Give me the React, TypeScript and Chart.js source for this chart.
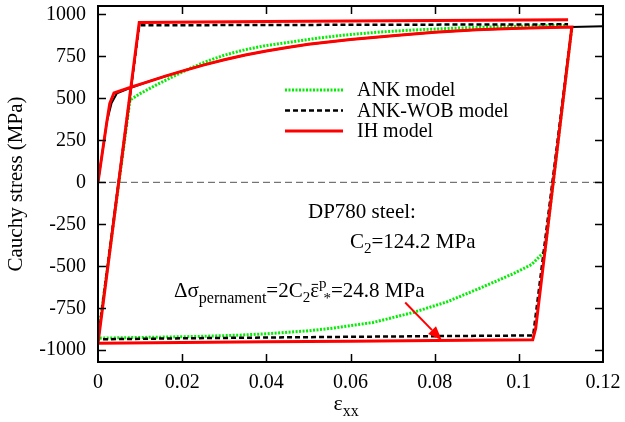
import React, { useEffect, useRef } from 'react';
import { Chart, registerables } from 'chart.js';

Chart.register(...registerables);

const FONT = '"Liberation Serif", "Times New Roman", serif';

const xTicks = [0, 0.02, 0.04, 0.06, 0.08, 0.1, 0.12];
const yTicks = [-1000, -750, -500, -250, 0, 250, 500, 750, 1000];

// IH model (red, solid)
const ihX = [0, 0.0021, 0.0028, 0.0038, 0.008, 0.012, 0.016, 0.02, 0.025, 0.03, 0.035, 0.04, 0.045, 0.05, 0.06, 0.07, 0.08, 0.09, 0.1, 0.1126, 0.104, 0.1033, 0.08, 0.06, 0.04, 0.02, 0, 0.0098, 0.04, 0.08, 0.1117];
const ihY = [0, 360, 470, 532, 568, 600, 632, 662, 698, 730, 758, 782, 803, 822, 850, 873, 893, 908, 918, 925, -870, -938, -942, -946, -950, -954, -958, 952, 957, 963, 968];

// monotonic loading curve (black, solid)
const monoX = [0, 0.0021, 0.0032, 0.0045, 0.008, 0.012, 0.016, 0.02, 0.025, 0.03, 0.035, 0.04, 0.045, 0.05, 0.06, 0.07, 0.08, 0.09, 0.1, 0.11, 0.12];
const monoY = [0, 360, 470, 530, 565, 600, 632, 662, 698, 730, 758, 782, 803, 822, 850, 873, 893, 908, 918, 924, 930];

// ANK-WOB model (black, dashed)
const wobX = [0.1126, 0.1034, 0.08, 0.05, 0.02, 0, 0.0098, 0.04, 0.08, 0.1117];
const wobY = [925, -912, -916, -922, -929, -935, 935, 937, 939, 941];

// ANK model (green, dotted)
const ankX = [0.1126, 0.1062, 0.103, 0.0986, 0.0908, 0.0829, 0.0749, 0.0653, 0.056, 0.0497, 0.04, 0.0337, 0.025, 0.015, 0, 0.0076, 0.01, 0.014, 0.018, 0.022, 0.026, 0.03, 0.035, 0.04, 0.046, 0.052, 0.059, 0.067, 0.075, 0.085, 0.095, 0.1117];
const ankY = [925, -410, -490, -545, -630, -712, -775, -835, -868, -885, -902, -910, -917, -922, -928, 490, 528, 582, 632, 680, 722, 757, 790, 815, 836, 858, 878, 895, 907, 918, 926, 935];

// zero reference line
const zeroX = [0, 0.12];
const zeroY = [0, 0];

// annotation arrow (start -> tip)
const arrowX = [0.073, 0.0817];
const arrowY = [-716, -940];

const pts = (xs: number[], ys: number[]) => xs.map((x, i) => ({ x, y: ys[i] }));

type Part = { t: string; s: number; dy?: number; dx?: number; bar?: boolean };

function drawRich(ctx: CanvasRenderingContext2D, x: number, y: number, parts: Part[]) {
  let cx = x;
  ctx.textAlign = 'left';
  ctx.textBaseline = 'alphabetic';
  for (const p of parts) {
    cx += p.dx || 0;
    ctx.font = `${p.s}px ${FONT}`;
    ctx.fillText(p.t, cx, y + (p.dy || 0));
    const w = ctx.measureText(p.t).width;
    if (p.bar) {
      ctx.save();
      ctx.lineWidth = 1;
      ctx.strokeStyle = '#000';
      ctx.beginPath();
      ctx.moveTo(cx + 1.5, y + (p.dy || 0) - p.s * 0.6);
      ctx.lineTo(cx + w - 1, y + (p.dy || 0) - p.s * 0.6);
      ctx.stroke();
      ctx.restore();
    }
    cx += w;
  }
}

const decorPlugin = {
  id: 'decor',
  afterDatasetsDraw(chart: any) {
    const { ctx, chartArea: a, scales } = chart;
    const xs = scales.x;
    const ys = scales.y;
    ctx.save();
    // frame
    ctx.strokeStyle = '#000';
    ctx.lineWidth = 2;
    ctx.strokeRect(a.left, a.top, a.right - a.left, a.bottom - a.top);
    // inward ticks on all sides
    ctx.lineWidth = 1.5;
    const tl = 8;
    ctx.beginPath();
    for (const v of xTicks) {
      const px = Math.round(xs.getPixelForValue(v)) + 0.5;
      if (px <= a.left + 1 || px >= a.right - 1) continue;
      ctx.moveTo(px, a.bottom);
      ctx.lineTo(px, a.bottom - tl);
      ctx.moveTo(px, a.top);
      ctx.lineTo(px, a.top + tl);
    }
    for (const v of yTicks) {
      const py = Math.round(ys.getPixelForValue(v)) + 0.5;
      ctx.moveTo(a.left, py);
      ctx.lineTo(a.left + tl, py);
      ctx.moveTo(a.right, py);
      ctx.lineTo(a.right - tl, py);
    }
    ctx.stroke();

    // legend
    const ds = chart.data.datasets;
    const legendItems = [2, 1, 0];
    const lx0 = a.left + 187;
    const lx1 = a.left + 245;
    const tx = a.left + 259;
    let ly = a.top + 84;
    for (const idx of legendItems) {
      const d = ds[idx];
      ctx.save();
      ctx.strokeStyle = d.borderColor;
      ctx.lineWidth = d.borderWidth;
      ctx.setLineDash(d.borderDash || []);
      ctx.beginPath();
      ctx.moveTo(lx0, ly);
      ctx.lineTo(lx1, ly);
      ctx.stroke();
      ctx.restore();
      ctx.fillStyle = '#000';
      ctx.font = `20px ${FONT}`;
      ctx.textAlign = 'left';
      ctx.textBaseline = 'middle';
      ctx.fillText(d.label, tx, ly + 1);
      ly += 20.5;
    }

    // annotations
    ctx.fillStyle = '#000';
    drawRich(ctx, 308, 218, [{ t: 'DP780 steel:', s: 21 }]);
    drawRich(ctx, 350, 248, [
      { t: 'C', s: 21 },
      { t: '2', s: 15, dy: 5 },
      { t: '=124.2 MPa', s: 21 },
    ]);
    drawRich(ctx, 174, 297, [
      { t: 'Δσ', s: 21 },
      { t: 'pernament', s: 16, dy: 6 },
      { t: '=2C', s: 21 },
      { t: '2', s: 15, dy: 5 },
      { t: 'ε', s: 21, bar: true },
      { t: 'p', s: 15, dy: -9 },
      { t: '*', s: 15, dy: 6, dx: -3 },
      { t: '=24.8 MPa', s: 21 },
    ]);

    // arrow
    const x0 = xs.getPixelForValue(arrowX[0]);
    const y0 = ys.getPixelForValue(arrowY[0]);
    const x1 = xs.getPixelForValue(arrowX[1]);
    const y1 = ys.getPixelForValue(arrowY[1]);
    const ang = Math.atan2(y1 - y0, x1 - x0);
    const hl = 14;
    const hw = 5.5;
    const bx = x1 - hl * Math.cos(ang);
    const by = y1 - hl * Math.sin(ang);
    ctx.strokeStyle = '#ff0000';
    ctx.fillStyle = '#ff0000';
    ctx.lineWidth = 2;
    ctx.beginPath();
    ctx.moveTo(x0, y0);
    ctx.lineTo(bx, by);
    ctx.stroke();
    ctx.beginPath();
    ctx.moveTo(x1, y1);
    ctx.lineTo(bx + hw * Math.sin(ang), by - hw * Math.cos(ang));
    ctx.lineTo(bx - hw * Math.sin(ang), by + hw * Math.cos(ang));
    ctx.closePath();
    ctx.fill();

    // x-axis title ε_xx
    ctx.fillStyle = '#000';
    const cx = (a.left + a.right) / 2 - 17;
    drawRich(ctx, cx, 410, [
      { t: 'ε', s: 22 },
      { t: 'xx', s: 16, dy: 6 },
    ]);
    ctx.restore();
  },
};

export default function App() {
  const ref = useRef<HTMLCanvasElement>(null);
  useEffect(() => {
    const canvas = ref.current;
    if (!canvas) return;
    const chart = new Chart(canvas, {
      type: 'scatter',
      data: {
        datasets: [
          {
            label: 'IH model',
            data: pts(ihX, ihY),
            showLine: true,
            borderColor: '#ff0000',
            borderWidth: 3,
            pointRadius: 0,
            fill: false,
          },
          {
            label: 'ANK-WOB model',
            data: pts(wobX, wobY),
            showLine: true,
            borderColor: '#000000',
            borderWidth: 2.5,
            borderDash: [5, 3],
            pointRadius: 0,
            fill: false,
          },
          {
            label: 'ANK model',
            data: pts(ankX, ankY),
            showLine: true,
            borderColor: '#00ee00',
            borderWidth: 3,
            borderDash: [2, 1.5],
            pointRadius: 0,
            fill: false,
          },
          {
            label: 'monotonic',
            data: pts(monoX, monoY),
            showLine: true,
            borderColor: '#000000',
            borderWidth: 2,
            pointRadius: 0,
            fill: false,
          },
          {
            label: 'zero',
            data: pts(zeroX, zeroY),
            showLine: true,
            borderColor: '#555555',
            borderWidth: 1,
            borderDash: [7, 4],
            pointRadius: 0,
            fill: false,
          },
        ],
      } as any,
      options: {
        responsive: false,
        animation: false,
        events: [],
        layout: { padding: { top: 6, right: 22, left: 0, bottom: 0 } },
        plugins: {
          legend: { display: false },
          tooltip: { enabled: false },
          title: { display: false },
        },
        scales: {
          x: {
            type: 'linear',
            position: 'bottom',
            min: 0,
            max: 0.12,
            grid: { display: false },
            border: { display: false },
            ticks: {
              font: { family: FONT, size: 20 },
              color: '#000',
              padding: 1,
              maxRotation: 0,
              autoSkip: false,
              callback: (v: any) => String(+Number(v).toFixed(2)),
            },
            afterBuildTicks: (s: any) => {
              s.ticks = xTicks.map((v) => ({ value: v }));
            },
            afterFit: (s: any) => {
              s.height = 60;
              s.paddingLeft = 0;
              s.paddingRight = 0;
            },
          },
          y: {
            type: 'linear',
            min: -1070,
            max: 1050,
            grid: { display: false },
            border: { display: false },
            ticks: {
              font: { family: FONT, size: 20 },
              color: '#000',
              padding: 4,
              autoSkip: false,
              callback: (v: any) => String(v),
            },
            afterBuildTicks: (s: any) => {
              s.ticks = yTicks.map((v) => ({ value: v }));
            },
            afterFit: (s: any) => {
              s.width = 98;
              s.paddingTop = 0;
              s.paddingBottom = 0;
            },
            title: {
              display: true,
              text: 'Cauchy stress (MPa)',
              font: { family: FONT, size: 21 },
              color: '#000',
              padding: { top: 4, bottom: 0 },
            },
          },
        },
      } as any,
      plugins: [decorPlugin],
    });
    return () => chart.destroy();
  }, []);
  return (
    <div style={{ position: 'fixed', left: 0, top: 0, width: 625, height: 422, background: '#fff' }}>
      <canvas ref={ref} width={625} height={422} />
    </div>
  );
}
